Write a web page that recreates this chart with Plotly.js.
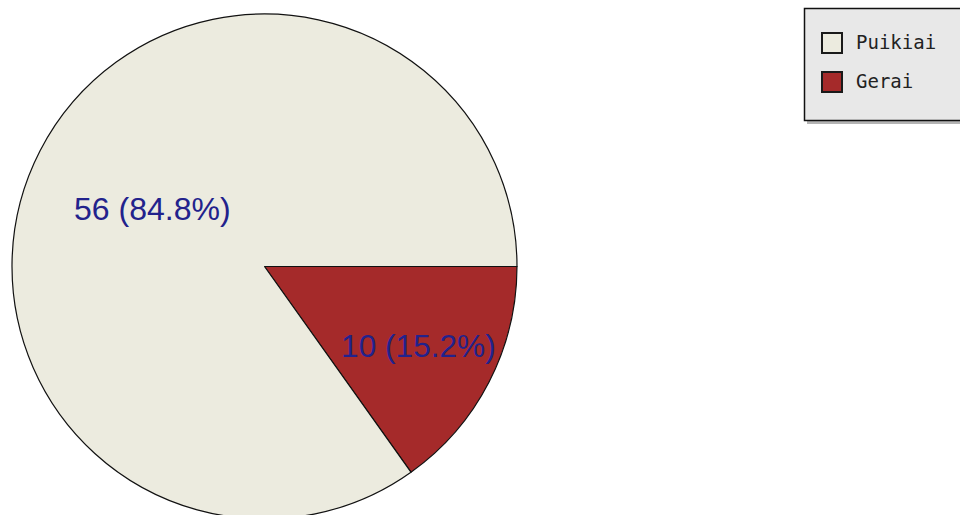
<!DOCTYPE html>
<html>
<head>
<meta charset="utf-8">
<script src="https://cdn.plot.ly/plotly-3.0.1.min.js"></script>
<style>
html,body{margin:0;padding:0;overflow:hidden;background:#fff;}
#chart{width:960px;height:540px;}
</style>
</head>
<body>
<div id="chart"></div>
<script>
var labels = ["Puikiai", "Gerai"];
var values = [56, 10];
var colors = ["#ecebdf", "#a52a2a"];

var W = 960, H = 540;
function px(x){ return x / W; }
function py(y){ return (H - y) / H; }

// slices drawn starting from 3 o'clock, clockwise, last legend entry first
var trace = {
  type: "pie",
  labels: labels.slice().reverse(),
  values: values.slice().reverse(),
  sort: false,
  direction: "clockwise",
  rotation: 90,
  marker: {colors: colors.slice().reverse(), line: {color: "#111111", width: 1.2}},
  texttemplate: "%{value} (%{percent:.1%})",
  textposition: "inside",
  insidetextorientation: "horizontal",
  textfont: {family: "Liberation Sans, Arial, sans-serif", size: 32, color: "#22228c"},
  hoverinfo: "none",
  domain: {x: [px(12), px(517)], y: [py(519), py(14)]},
  showlegend: false
};

var shapes = [
  {type: "rect", xref: "paper", yref: "paper", x0: px(807), x1: px(970), y0: py(124), y1: py(12),
   fillcolor: "#b4b4b4", line: {width: 0}, layer: "above"},
  {type: "rect", xref: "paper", yref: "paper", x0: px(804.5), x1: px(975), y0: py(120.5), y1: py(8.5),
   fillcolor: "#e8e8e8", line: {color: "#111111", width: 1.5}, layer: "above"}
];
var annotations = [];
var rowY = [43, 82];
labels.forEach(function(lab, i){
  shapes.push({type: "rect", xref: "paper", yref: "paper",
    x0: px(822), x1: px(842), y0: py(rowY[i] + 10), y1: py(rowY[i] - 10),
    fillcolor: colors[i], line: {color: "#1a1a1a", width: 2}, layer: "above"});
  annotations.push({xref: "paper", yref: "paper", x: px(854), y: py(rowY[i] - 1),
    xanchor: "left", yanchor: "middle", showarrow: false, text: lab,
    font: {family: "DejaVu Sans Mono, monospace", size: 19, color: "#222222"}});
});

var layout = {
  width: W, height: H,
  margin: {l: 0, r: 0, t: 0, b: 0},
  paper_bgcolor: "#ffffff",
  showlegend: false,
  shapes: shapes,
  annotations: annotations
};

Plotly.newPlot("chart", [trace], layout, {displayModeBar: false, staticPlot: true});
</script>
</body>
</html>
